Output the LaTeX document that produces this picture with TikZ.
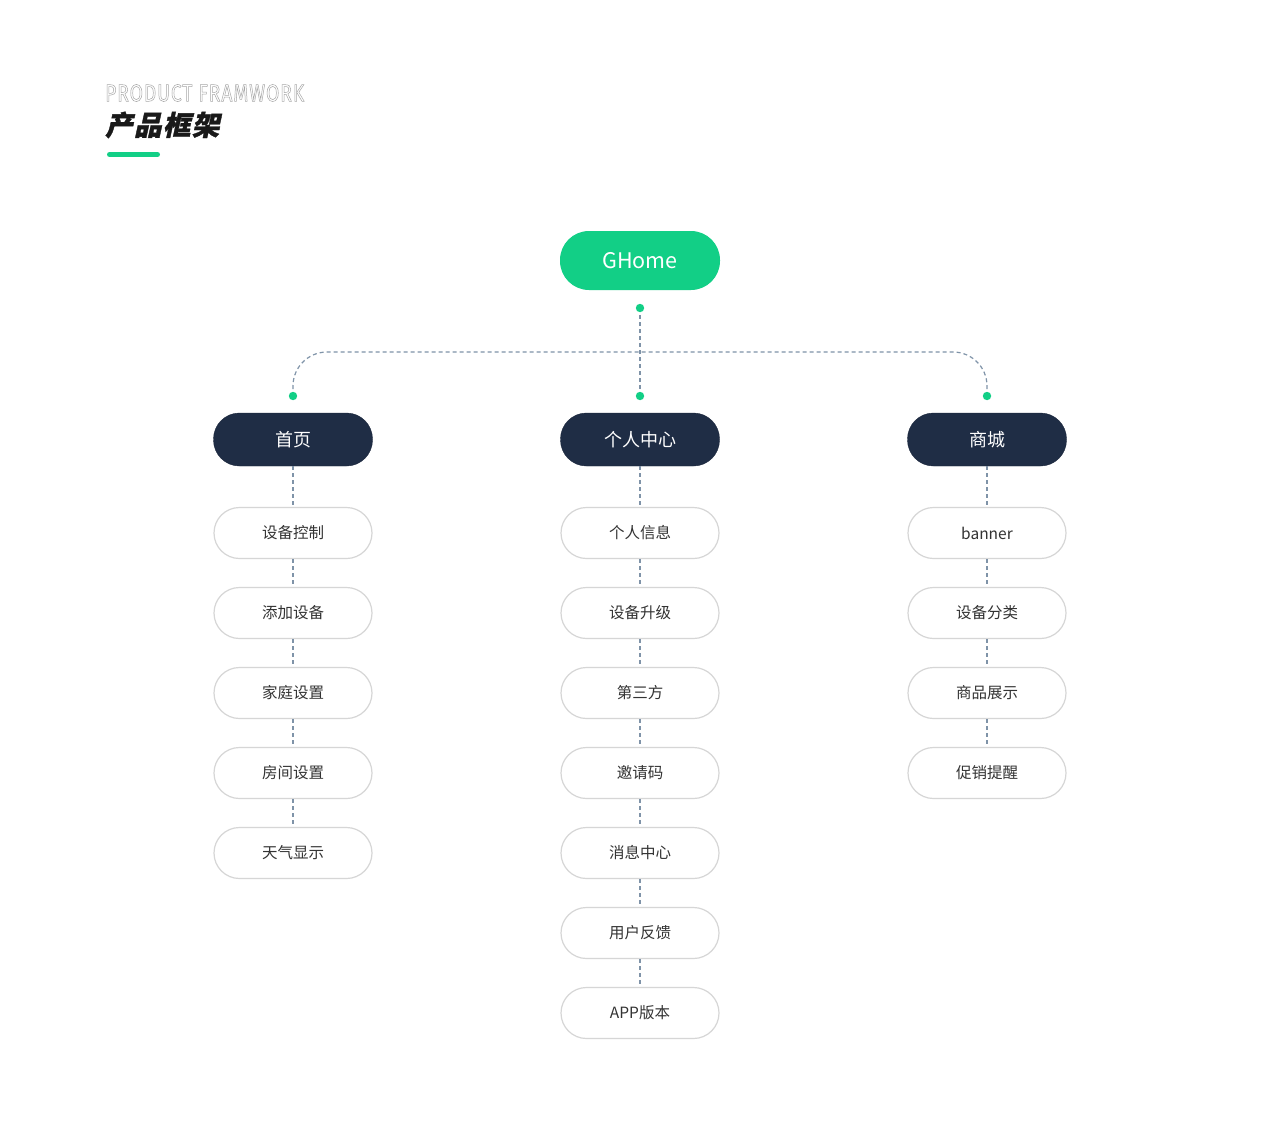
\documentclass[tikz,border=0pt]{standalone}
\usepackage{fontspec}
\setmainfont{Noto Sans CJK SC}
\newfontfamily\entitlefont[FakeStretch=0.8, LetterSpace=4]{Fira Sans}
\newfontfamily\cntitlefont[FakeSlant=0.22, FakeBold=1.2, LetterSpace=5]{Noto Sans CJK SC}
\usetikzlibrary{positioning}
\definecolor{ghgreen}{HTML}{12CF86}
\definecolor{ghnavy}{HTML}{1F2D45}
\definecolor{leafgray}{HTML}{D6D6D6}
\definecolor{leaftext}{HTML}{333333}
\definecolor{linkblue}{HTML}{7F93A8}
\newcommand{\outlinetext}[1]{\special{pdf:code q 1 Tr 0.5 w}#1\special{pdf:code Q}}

\begin{document}
\begin{tikzpicture}[x=1pt, y=-1pt,
	hub/.style={rectangle, rounded corners=29pt, fill=ghgreen, text=white,
		minimum width=160pt, minimum height=59pt, font=\fontsize{21.5}{24}\selectfont},
	section/.style={rectangle, rounded corners=26pt, fill=ghnavy, draw=ghnavy!85!black,
		minimum width=159pt, minimum height=53pt, text=white, font=\fontsize{18}{22}\selectfont},
	leaf/.style={rectangle, rounded corners=25.5pt, draw=leafgray, line width=1.2pt, fill=white,
		minimum width=158pt, minimum height=51pt, text=leaftext, font=\fontsize{15.5}{19}\selectfont},
	link/.style={draw=linkblue, line width=1.2pt, dash pattern=on 4pt off 3pt},
	dot/.style={fill=ghgreen}]
	\useasboundingbox[fill=white] (0,0) rectangle (1280,1133);
	
	% 标题
	\node[anchor=west, inner sep=0pt, text=gray!70, font=\entitlefont\fontsize{24}{26}\selectfont] (entitle) at (105,93) {\outlinetext{PRODUCT FRAMWORK}};
	\node[anchor=west, inner sep=0pt, text=black!90, font=\cntitlefont\bfseries\fontsize{27.5}{30}\selectfont] (cntitle) at (105,125) {产品框架};
	\draw[ghgreen, line width=5pt, line cap=round] (109.5,154.5) -- (157.5,154.5);
	
	% 一级
	\node[hub] (ghome) at (640,260.5) {GHome};
	\node[section] (home) at (293,439.5) {首页};
	\node[section] (mine) at (640,439.5) {个人中心};
	\node[section] (mall) at (987,439.5) {商城};
	
	% 连线
	\coordinate (top) at (640,308);
	\coordinate (bus) at (640,352);
	\coordinate (lft) at (293,396);
	\coordinate (mid) at (640,396);
	\coordinate (rgt) at (987,396);
	\draw[link, rounded corners=34pt] (lft) |- (bus) -| (rgt);
	\draw[link] (top) -- (mid);
	\foreach \p in {top, lft, mid, rgt}
		\fill[dot] (\p) circle (4.2pt);
	
	% 二级
	\foreach \txt [count=\i] in {设备控制, 添加设备, 家庭设置, 房间设置, 天气显示}
		\node[leaf] (home\i) at (293,453+80*\i) {\txt};
	\foreach \txt [count=\i] in {个人信息, 设备升级, 第三方, 邀请码, 消息中心, 用户反馈, APP版本}
		\node[leaf] (mine\i) at (640,453+80*\i) {\txt};
	\foreach \txt [count=\i] in {banner, 设备分类, 商品展示, 促销提醒}
		\node[leaf] (mall\i) at (987,453+80*\i) {\txt};
	
	\foreach \a/\b in {home/home1, home1/home2, home2/home3, home3/home4, home4/home5,
		mine/mine1, mine1/mine2, mine2/mine3, mine3/mine4, mine4/mine5, mine5/mine6, mine6/mine7,
		mall/mall1, mall1/mall2, mall2/mall3, mall3/mall4}
		\draw[link] (\a) -- (\b);
\end{tikzpicture}
\end{document}
